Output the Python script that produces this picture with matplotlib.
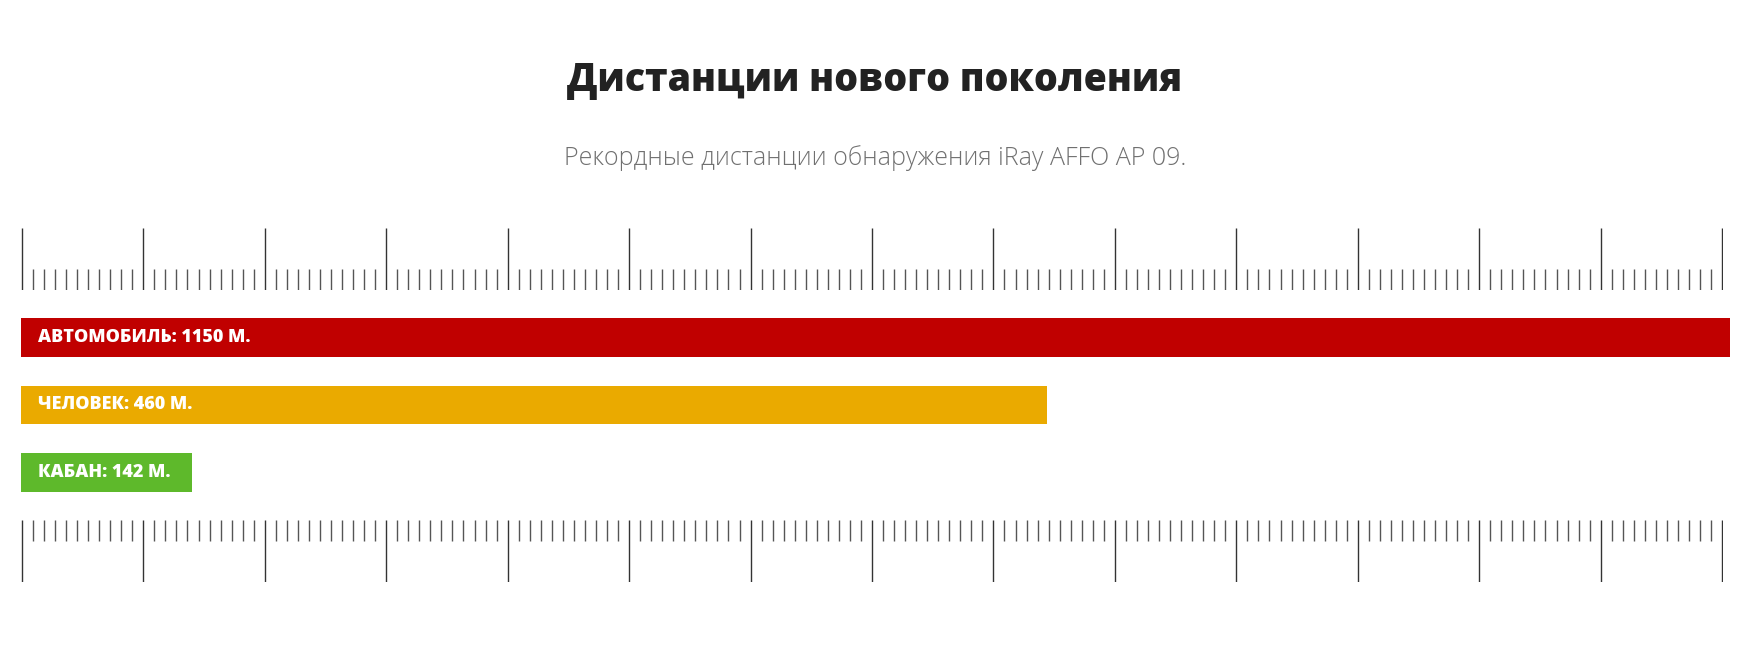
import numpy as np
import matplotlib.pyplot as plt

# Data
categories = ['АВТОМОБИЛЬ', 'ЧЕЛОВЕК', 'КАБАН']
distances_m = [1150, 460, 142]
bar_length_pct = [100, 60, 10]   # visual bar length, % of ruler width
colors = ['#C00000', '#EAAA00', '#5EB92B']

title = 'Дистанции нового поколения'
subtitle = 'Рекордные дистанции обнаружения iRay AFFO AP 09.'

# Ruler: 14 major divisions, 11 minor steps each
n_major = 14
n_minor = 11

W, H = 1750, 661
fig = plt.figure(figsize=(W / 100, H / 100), dpi=100)


def px_axes(x0, y0, x1, y1):
    # axes from pixel box (top-left origin)
    return fig.add_axes([x0 / W, 1 - y1 / H, (x1 - x0) / W, (y1 - y0) / H])


fig.text(0.5, 1 - 81 / H, title, ha='center', va='center',
         fontsize=27, fontweight=800, color='#222222', family='Open Sans')
fig.text(0.5, 1 - 158 / H, subtitle, ha='center', va='center',
         fontsize=18, fontweight=300, color='#707070', family='Open Sans')

# Bars
ax = px_axes(21.3, 318, 1730, 492)
y = np.arange(len(categories))
ax.barh(y, bar_length_pct, height=0.577, color=colors, align='center')
for yi, cat, d in zip(y, categories, distances_m):
    ax.text(1.0, yi, f'{cat}: {d} М.', ha='left', va='center',
            color='white', fontsize=13, fontweight=800, family='Open Sans')
ax.set_xlim(0, 100)
ax.set_ylim(2.2885, -0.2885)
ax.axis('off')

# Rulers
ticks = np.arange(n_major * n_minor + 1)
is_major = ticks % n_minor == 0
minor_frac = 21 / 62

ax_top = px_axes(21.3, 228, 1722.7, 290)
ax_top.vlines(ticks[is_major], 0, 1, color='#333333', lw=1)
ax_top.vlines(ticks[~is_major], 0, minor_frac, color='#555555', lw=1)

ax_bot = px_axes(21.3, 520, 1722.7, 582)
ax_bot.vlines(ticks[is_major], 0, 1, color='#333333', lw=1)
ax_bot.vlines(ticks[~is_major], 1 - minor_frac, 1, color='#555555', lw=1)

for a in (ax_top, ax_bot):
    a.set_xlim(ticks[0] - 0.05, ticks[-1] + 0.05)
    a.set_ylim(0, 1)
    a.axis('off')

fig.savefig('out.png', dpi=100, facecolor='white')
